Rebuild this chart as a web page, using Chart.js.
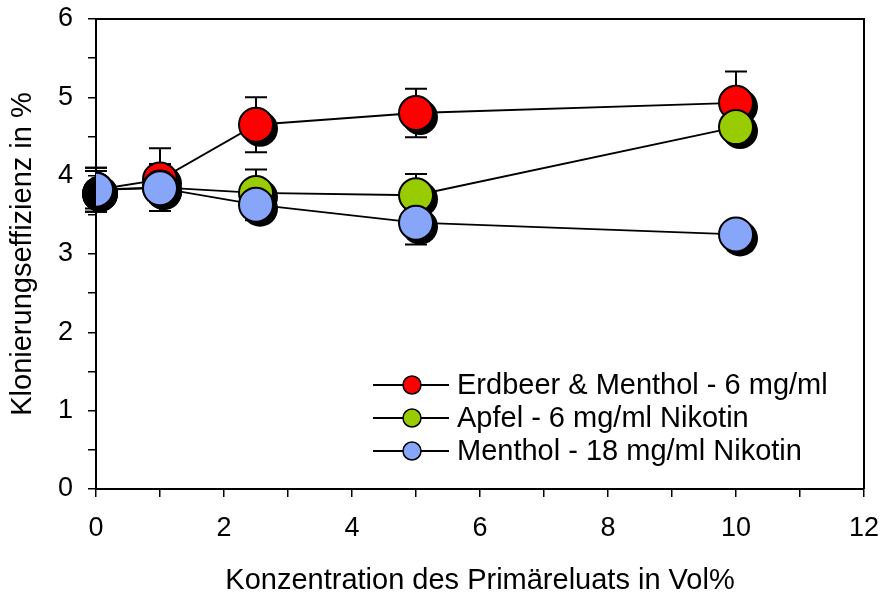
<!DOCTYPE html>
<html>
<head>
<meta charset="utf-8">
<script src="https://cdn.jsdelivr.net/npm/chart.js@4/dist/chart.umd.min.js"></script>
<style>
  html, body { margin: 0; padding: 0; background: #fff; }
  #wrap { width: 885px; height: 598px; }
</style>
</head>
<body>
<div id="wrap"><canvas id="grafico"></canvas></div>
<script>
// Konzentration (Vol%)
const konzentration = [0, 1, 2.5, 5, 10];

const serienNamen = [
    'Erdbeer & Menthol - 6 mg/ml',
    'Apfel - 6 mg/ml Nikotin',
    'Menthol - 18 mg/ml Nikotin'
];

// Klonierungseffizienz in %
const erdbeerWerte = [3.82, 3.95, 4.65, 4.80, 4.93];
const apfelWerte   = [3.82, 3.85, 3.78, 3.75, 4.62];
const mentholWerte = [3.82, 3.84, 3.63, 3.40, 3.25];

// Fehlerbalken (Standardabweichung)
const erdbeerFehler = [0.28, 0.40, 0.35, 0.31, 0.40];
const apfelFehler   = [0.28, 0.30, 0.30, 0.27, 0.10];
const mentholFehler = [0.24, 0.18, 0.20, 0.28, 0.05];

const xTicks = [0, 2, 4, 6, 8, 10, 12];
const yTicks = [0, 1, 2, 3, 4, 5, 6];

const farben = {
    rot: '#FF0000',
    gruen: '#99CC00',
    blau: '#87A6FA',
    schwarz: '#000000'
};

const schrift = "'Liberation Sans', Arial, sans-serif";

const serien = [
    { name: serienNamen[0], werte: erdbeerWerte, fehler: erdbeerFehler, farbe: farben.rot },
    { name: serienNamen[1], werte: apfelWerte, fehler: apfelFehler, farbe: farben.gruen },
    { name: serienNamen[2], werte: mentholWerte, fehler: mentholFehler, farbe: farben.blau }
];

const punkte = (werte) => konzentration.map((x, i) => ({ x: x, y: werte[i] }));

const datasets = [];
// Linien zuerst (hinten)
serien.forEach((s) => {
    datasets.push({
        label: s.name + ' Linie',
        data: punkte(s.werte),
        showLine: true,
        borderColor: farben.schwarz,
        borderWidth: 1.8,
        pointRadius: 0,
        order: 10,
        istLinie: true
    });
});
// Punkte, Menthol oben
serien.forEach((s, i) => {
    datasets.push({
        label: s.name,
        data: punkte(s.werte),
        showLine: false,
        pointRadius: 17,
        pointBackgroundColor: s.farbe,
        pointBorderColor: farben.schwarz,
        pointBorderWidth: 2,
        order: 3 - i,
        fehler: s.fehler
    });
});

const rahmenUndFehler = {
    id: 'rahmenUndFehler',
    beforeDatasetsDraw(chart) {
        const ctx = chart.ctx;
        const xs = chart.scales.x, ys = chart.scales.y;
        ctx.save();
        ctx.strokeStyle = farben.schwarz;
        ctx.lineWidth = 2;
        chart.data.datasets.forEach((ds) => {
            if (!ds.fehler) return;
            ds.data.forEach((p, i) => {
                const px = xs.getPixelForValue(p.x);
                const oben = ys.getPixelForValue(p.y + ds.fehler[i]);
                const unten = ys.getPixelForValue(p.y - ds.fehler[i]);
                ctx.beginPath();
                ctx.moveTo(px, oben); ctx.lineTo(px, unten);
                ctx.moveTo(px - 11, oben); ctx.lineTo(px + 11, oben);
                ctx.moveTo(px - 11, unten); ctx.lineTo(px + 11, unten);
                ctx.stroke();
            });
        });
        ctx.restore();
    },
    beforeDatasetDraw(chart, args) {
        const ds = chart.data.datasets[args.index];
        if (ds.istLinie) return;
        const ctx = chart.ctx;
        ctx.save();
        ctx.fillStyle = farben.schwarz;
        args.meta.data.forEach((el) => {
            ctx.beginPath();
            ctx.arc(el.x + 4, el.y + 4, 18, 0, Math.PI * 2);
            ctx.fill();
        });
        ctx.restore();
    },
    afterDraw(chart) {
        const ctx = chart.ctx;
        const a = chart.chartArea;
        ctx.save();
        ctx.strokeStyle = farben.schwarz;
        ctx.lineWidth = 2;
        ctx.beginPath();
        ctx.moveTo(a.left, a.top);
        ctx.lineTo(a.right, a.top);
        ctx.lineTo(a.right, a.bottom);
        ctx.stroke();

        // Legende
        const lx = a.left + 277;
        let ly = a.top + 366;
        ctx.font = '29px ' + schrift;
        ctx.textBaseline = 'middle';
        serien.forEach((s) => {
            ctx.strokeStyle = farben.schwarz;
            ctx.lineWidth = 1.8;
            ctx.beginPath();
            ctx.moveTo(lx, ly);
            ctx.lineTo(lx + 76, ly);
            ctx.stroke();
            ctx.beginPath();
            ctx.arc(lx + 39, ly, 9, 0, Math.PI * 2);
            ctx.fillStyle = s.farbe;
            ctx.fill();
            ctx.lineWidth = 1.5;
            ctx.stroke();
            ctx.fillStyle = farben.schwarz;
            ctx.fillText(s.name, lx + 84, ly + 1);
            ly += 33;
        });
        ctx.restore();
    }
};

const tickStil = {
    color: farben.schwarz,
    font: { family: schrift, size: 27 }
};

new Chart(document.getElementById('grafico'), {
    type: 'scatter',
    data: { datasets: datasets },
    options: {
        responsive: true,
        maintainAspectRatio: false,
        animation: false,
        layout: { padding: { top: 18, right: 21, left: 0, bottom: 0 } },
        plugins: {
            legend: { display: false },
            tooltip: { enabled: false }
        },
        scales: {
            x: {
                type: 'linear',
                min: 0,
                max: 12,
                afterFit(scale) {
                    scale.height = 109;
                    scale.paddingLeft = 0;
                    scale.paddingRight = 0;
                },
                afterBuildTicks(scale) {
                    scale.ticks = [];
                    for (let v = 0; v <= 12; v++) scale.ticks.push({ value: v });
                },
                ticks: {
                    ...tickStil,
                    padding: 15,
                    maxRotation: 0,
                    autoSkip: false,
                    callback: (v) => xTicks.includes(v) ? String(v) : ''
                },
                grid: {
                    drawOnChartArea: false,
                    color: farben.schwarz,
                    lineWidth: 1.5,
                    tickLength: 8
                },
                border: { color: farben.schwarz, width: 2 },
                title: {
                    display: true,
                    text: 'Konzentration des Primäreluats in Vol%',
                    color: farben.schwarz,
                    font: { family: schrift, size: 29 },
                    padding: { top: 0, bottom: 0 }
                }
            },
            y: {
                type: 'linear',
                min: 0,
                max: 6,
                afterFit(scale) {
                    scale.width = 96;
                    scale.paddingTop = 0;
                    scale.paddingBottom = 0;
                },
                afterBuildTicks(scale) {
                    scale.ticks = [];
                    for (let v = 0; v <= 12; v++) scale.ticks.push({ value: v / 2 });
                },
                ticks: {
                    ...tickStil,
                    padding: 15,
                    autoSkip: false,
                    callback: (v) => yTicks.includes(v) ? String(v) : ''
                },
                grid: {
                    drawOnChartArea: false,
                    color: farben.schwarz,
                    lineWidth: 1.5,
                    tickLength: 8
                },
                border: { color: farben.schwarz, width: 2 },
                title: {
                    display: true,
                    text: 'Klonierungseffizienz in %',
                    color: farben.schwarz,
                    font: { family: schrift, size: 29 },
                    padding: { top: 6, bottom: 0 }
                }
            }
        }
    },
    plugins: [rahmenUndFehler]
});
</script>
</body>
</html>
